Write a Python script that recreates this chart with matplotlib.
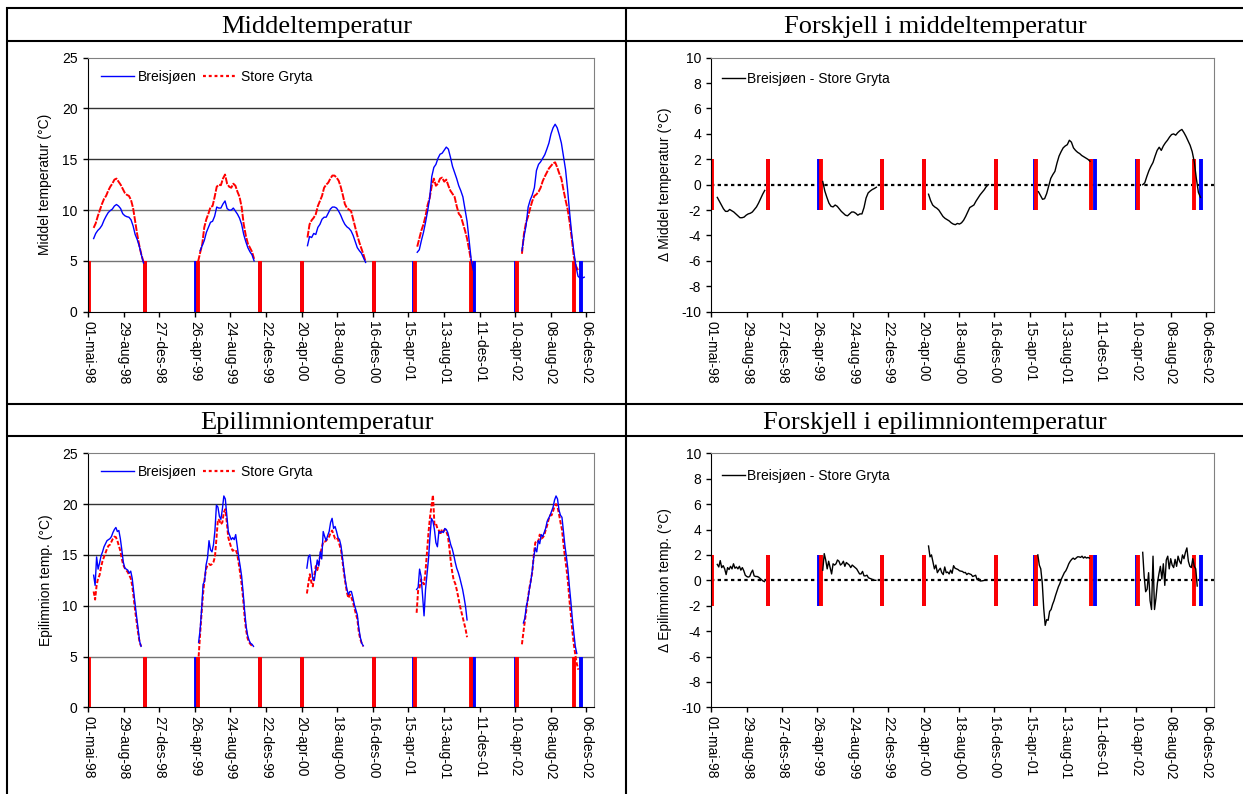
import matplotlib
matplotlib.use('Agg')
import matplotlib.pyplot as plt
from matplotlib.lines import Line2D
import numpy as np
import pandas as pd

plt.rcParams['font.family'] = ['Liberation Sans', 'DejaVu Sans']
plt.rcParams['axes.unicode_minus'] = False
nan = np.nan

# ice-off / ice-on dates for the two lakes
ice_breisjoen = ['1998-05-01', '1998-11-09', '1999-04-30', '1999-12-02', '2000-04-23',
                 '2000-12-21', '2001-05-04', '2001-11-24', '2002-04-13', '2002-11-17']
ice_store_gryta = ['1998-05-03', '1998-11-09', '1999-05-07', '1999-12-02', '2000-04-23',
                   '2000-12-21', '2001-05-08', '2001-11-11', '2002-04-18', '2002-10-24']

# mean water column temperature, weekly values per open-water season
mean_start = ['1998-05-20', '1999-05-07', '2000-05-10', '2001-05-15', '2002-05-03']
mean_breisjoen = [
    [7.2, 7.7, 8.0, 8.2, 8.5, 9.0, 9.4, 9.75, 9.95, 10.1, 10.4, 10.55, 10.4, 10.15, 9.65,
     9.45, 9.35, 9.3, 9.05, 8.45, 7.6, 7.1, 6.45, 5.6, 4.8],
    [nan, 6.0, 6.5, 7.0, 7.8, 8.3, 8.8, 8.9, 9.4, 10.3, 10.2, 10.2, 10.6, 10.9, 10.15,
     10.0, 10.0, 10.2, 9.9, 9.6, 9.2, 8.6, 7.6, 6.9, 6.3, 5.9, 5.6, 5.0],
    [6.5, 7.4, 7.3, 7.7, 7.6, 8.3, 8.6, 9.1, 9.3, 9.3, 9.7, 10.1, 10.3, 10.3, 10.2,
     9.9, 9.5, 9.0, 8.6, 8.35, 8.2, 7.95, 7.5, 6.9, 6.3, 6.0, 5.75, 5.3, 4.85],
    [5.85, 6.1, 7.0, 7.8, 8.8, 9.9, 11.2, 13.3, 14.2, 14.5, 15.1, 15.5, 15.6, 15.9, 16.2,
     16.0, 15.2, 14.3, 13.7, 13.1, 12.4, 11.9, 11.3, 10.1, 8.9, 7.0, 5.1, 4.1],
    [6.0, 7.4, 8.5, 10.3, 11.0, 11.5, 12.2, 13.9, 14.5, 14.75, 15.1, 15.45, 16.0, 16.6,
     17.5, 18.1, 18.45, 18.1, 17.4, 16.6, 15.3, 14.0, 12.0, 9.7, 7.6, 5.9, 4.5, 3.5,
     3.3, 3.3, 3.4],
]
mean_store_gryta = [
    [8.25, 8.7, 9.4, 10.0, 10.6, 11.1, 11.4, 11.9, 12.3, 12.6, 13.0, 13.1, 12.8, 12.5, 12.1,
     11.7, 11.5, 11.4, 11.0, 10.2, 8.9, 7.6, 6.5, 5.6, 4.9],
    [4.9, 5.8, 6.6, 8.3, 9.1, 9.65, 10.3, 10.4, 11.3, 12.3, 12.5, 12.45, 13.1, 13.5, 12.6,
     12.3, 12.2, 12.6, 12.4, 11.8, 11.3, 10.3, 8.6, 7.5, 6.7, 6.3, 5.9, 5.2],
    [7.3, 8.6, 9.0, 9.25, 9.6, 10.4, 10.9, 11.4, 12.2, 12.5, 12.7, 13.1, 13.4, 13.4, 13.2,
     12.9, 12.3, 11.5, 10.6, 10.2, 10.05, 9.9, 9.1, 8.3, 7.5, 6.8, 6.2, 5.6, 4.9],
    [6.4, 7.2, 8.0, 8.6, 9.4, 10.5, 11.2, 12.4, 13.1, 12.4, 12.6, 13.1, 13.2, 12.8, 13.0,
     12.4, 11.9, 11.6, 11.3, 10.4, 9.65, 9.4, 8.7, 8.0, 7.2, 6.1, 4.9, nan],
    [5.7, 7.7, 8.8, 9.4, 10.2, 10.9, 11.4, 11.55, 11.8, 12.2, 12.85, 13.3, 13.7, 14.1,
     14.35, 14.6, 14.7, 14.2, 13.6, 13.1, 12.0, 11.0, 10.1, 8.8, 7.2, 5.4, 4.5, 4.1,
     nan, nan, nan],
]

# Breisjøen minus Store Gryta, mean temperature (weekly)
diff_mean_start = ['1998-05-21', '1999-05-14', '2000-05-07', '2001-05-15', '2002-05-04']
diff_mean = [
    [-1.0, -1.3, -1.6, -1.9, -2.1, -2.1, -1.95, -2.05, -2.15, -2.3, -2.45, -2.6, -2.6,
     -2.55, -2.4, -2.3, -2.25, -2.15, -1.95, -1.75, -1.45, -1.1, -0.75, -0.45],
    [0.25, -0.5, -1.0, -1.45, -1.7, -1.75, -1.6, -1.7, -1.9, -2.1, -2.25, -2.4, -2.45,
     -2.3, -2.15, -2.15, -2.25, -2.4, -2.3, -2.3, -1.8, -1.05, -0.65, -0.5, -0.38, -0.3,
     -0.2],
    [-0.75, -1.25, -1.6, -1.75, -1.85, -2.0, -2.25, -2.5, -2.65, -2.75, -2.85, -3.0, -3.1,
     -3.15, -3.05, -3.1, -3.0, -2.8, -2.5, -2.15, -1.8, -1.7, -1.6, -1.3, -1.05, -0.8,
     -0.6, -0.4, -0.15, 0.0],
    [-0.55, -0.85, -1.15, -1.1, -0.7, -0.1, 0.5, 0.8, 1.05, 1.7, 2.25, 2.6, 2.9, 3.05,
     3.15, 3.5, 3.35, 2.9, 2.7, 2.55, 2.45, 2.3, 2.2, 2.1, 2.0, 1.85],
    [0.0, 0.15, 0.65, 1.1, 1.45, 1.75, 2.25, 2.7, 2.95, 2.7, 3.05, 3.3, 3.5, 3.75, 3.95,
     4.0, 3.9, 4.1, 4.25, 4.35, 4.1, 3.8, 3.45, 3.1, 2.6, 1.8, 0.5, -0.6, -1.0],
]

# epilimnion temperature, 5-day values per season
epi_start = ['1998-05-20', '1999-05-09', '2000-05-08', '2001-05-13', '2002-05-03']
epi_breisjoen = [
    [13.0, 12.0, 14.8, 13.6, 14.2, 14.9, 15.3, 15.8, 16.1, 16.4, 16.5, 16.6, 16.8, 17.2,
     17.5, 17.7, 17.3, 17.4, 16.6, 15.5, 14.3, 13.7, 13.6, 13.5, 13.2, 13.4, 12.7, 11.4,
     10.1, 8.9, 7.7, 6.5, 6.0],
    [6.4, 7.6, 9.6, 12.1, 12.4, 14.0, 14.7, 16.4, 15.5, 15.3, 16.0, 17.4, 19.9, 19.7,
     18.8, 18.5, 19.5, 20.8, 20.5, 18.9, 17.3, 16.9, 16.5, 16.7, 16.5, 17.0, 15.9, 14.8,
     13.9, 12.9, 11.3, 9.5, 8.0, 7.1, 6.6, 6.3, 6.2, 6.0],
    [13.7, 14.8, 15.0, 13.8, 12.6, 12.5, 13.5, 14.5, 13.9, 15.3, 14.6, 17.3, 16.8, 16.4,
     16.9, 17.3, 18.2, 18.6, 17.6, 17.8, 17.3, 16.7, 16.5, 15.9, 14.7, 13.5, 12.4, 11.6,
     11.1, 11.4, 11.4, 10.8, 10.1, 9.6, 9.1, 7.8, 6.9, 6.3, 6.05],
    [11.6, 11.8, 13.6, 12.9, 11.0, 9.0, 11.6, 13.1, 14.6, 16.8, 18.6, 18.3, 17.5, 16.2,
     15.8, 17.3, 17.2, 17.3, 17.2, 17.6, 17.5, 17.2, 16.6, 16.0, 15.6, 15.0, 14.3, 13.7,
     13.3, 12.8, 12.2, 11.6, 10.8, 9.9, 8.6],
    [nan, 8.3, 8.8, 10.0, 10.6, 11.6, 12.4, 13.5, 14.8, 15.7, 15.3, 16.4, 16.1, 17.0,
     16.8, 17.2, 17.6, 18.3, 18.6, 18.9, 19.3, 19.7, 20.4, 20.8, 20.5, 19.4, 18.9, 18.7,
     17.3, 15.9, 14.8, 13.6, 11.9, 10.4, 8.7, 7.3, 6.0, 5.3, nan],
]
epi_store_gryta = [
    [11.4, 10.6, 12.0, 12.7, 13.0, 13.8, 14.4, 14.8, 15.2, 15.6, 15.9, 16.0, 16.3, 16.6,
     16.8, 16.75, 16.4, 15.9, 15.4, 14.6, 14.0, 13.7, 13.5, 13.3, 13.0, 12.7, 12.0, 10.8,
     9.5, 8.4, 7.3, 6.4, 6.0],
    [5.0, 7.2, 9.3, 11.2, 12.6, 13.6, 14.0, 14.1, 14.0, 14.1, 14.3, 14.8, 16.6, 18.5,
     18.4, 18.0, 18.2, 19.2, 19.5, 18.2, 16.7, 16.2, 15.7, 15.4, 15.5, 15.5, 15.1, 14.2,
     13.2, 12.1, 10.7, 8.9, 7.6, 6.8, 6.4, 6.2, 6.05, 5.95],
    [11.2, 12.2, 13.1, 12.3, 11.9, 13.0, 13.9, 13.5, 14.1, 15.0, 15.7, 16.3, 16.3, 16.4,
     16.6, 16.8, 17.2, 17.4, 17.0, 16.6, 16.7, 16.5, 16.0, 15.5, 14.4, 13.2, 12.2, 11.3,
     10.75, 11.1, 10.8, 10.4, 9.8, 9.2, 8.7, 7.4, 6.7, 6.3, 6.0],
    [9.3, 11.5, 11.8, 12.6, 12.3, 12.1, 13.4, 15.3, 17.2, 18.7, 19.8, 20.9, 18.0, 18.1,
     17.6, 17.4, 17.0, 17.5, 17.3, 17.5, 17.3, 16.9, 15.8, 14.4, 13.3, 12.5, 12.2, 11.6,
     10.9, 10.1, 9.5, 8.9, 8.3, 7.7, 6.9],
    [6.2, 7.4, 8.5, 9.6, 10.7, 11.7, 12.5, 13.3, 15.0, 16.2, 16.4, 16.3, 17.0, 16.6, 16.7,
     16.9, 17.45, 17.9, 18.5, 18.9, 18.9, 19.3, 19.8, 20.0, 19.75, 19.0, 18.2, 17.5, 16.1,
     14.8, 13.7, 12.4, 10.6, 9.1, 7.5, 6.2, 5.15, 4.3, 3.7],
]

# Breisjøen minus Store Gryta, epilimnion (5-day)
diff_epi_start = ['1998-05-21', '1999-05-14', '2000-05-07', '2001-05-13', '2002-05-04']
diff_epi = [
    [1.25, 1.05, 1.55, 1.0, 1.15, 0.9, 0.45, 1.0, 0.85, 1.1, 0.9, 1.3, 0.95, 1.05, 0.9,
     1.1, 0.8, 1.0, 0.75, 0.4, 0.3, 0.25, 0.3, 0.6, 0.8, 0.35, 0.3, 0.3, 0.25, 0.15, 0.05,
     -0.05, -0.1],
    [0.8, 2.1, 1.6, 0.9, 1.5, 1.0, 0.5, 1.3, 1.2, 1.3, 1.6, 1.5, 1.2, 1.3, 1.5, 1.1, 1.4,
     1.3, 1.2, 1.0, 1.2, 1.1, 1.0, 0.9, 0.7, 0.5, 0.5, 0.7, 0.35, 0.35, 0.4, 0.2, 0.15,
     0.1, 0.05, 0.0, 0.0],
    [2.7, 1.85, 2.0, 1.45, 0.9, 1.2, 0.6, 0.8, 0.95, 0.6, 0.45, 1.05, 0.6, 0.65, 0.5, 0.8,
     0.55, 1.15, 0.95, 0.9, 0.85, 0.75, 0.72, 0.7, 0.6, 0.62, 0.45, 0.55, 0.5, 0.45, 0.3,
     0.35, 0.4, 0.05, 0.15, -0.05, -0.05, -0.03, 0.0, 0.0],
    [2.0, 1.2, 0.9, -0.2, -2.2, -3.55, -3.1, -3.15, -2.45, -2.3, -1.9, -1.6, -1.2, -0.85,
     -0.5, -0.25, 0.1, 0.35, 0.6, 0.75, 1.0, 1.3, 1.5, 1.65, 1.75, 1.65, 1.75, 1.85, 1.85,
     1.8, 1.9, 1.75, 1.85, 1.75, 1.8, 1.75],
    [2.2, 0.3, -0.9, -0.7, 0.6, -1.6, -2.3, 1.9, -2.3, -1.4, -0.2, 0.5, 1.1, 0.1, 1.3,
     -0.4, 1.6, 1.9, 0.9, 1.7, 1.2, 1.0, 1.65, 1.1, 1.9, 1.5, 1.3, 2.0, 1.7, 2.2, 2.55,
     1.5, 1.1, 1.0, 1.7, 1.1, 0.9, -0.45],
]

months = ['jan', 'feb', 'mar', 'apr', 'mai', 'jun', 'jul', 'aug', 'sep', 'okt', 'nov', 'des']
tick_dates = pd.date_range('1998-05-01', periods=15, freq='120D')
tick_labels = ['%02d-%s-%02d' % (d.day, months[d.month - 1], d.year % 100) for d in tick_dates]

BLUE = '#0000ff'
RED = '#ff0000'
W, H = 1243, 794


def fx(px):
    return px / W


def fy(py):
    return 1 - py / H


def plot_seasons(ax, starts, seasons, step, **kw):
    for start, vals in zip(starts, seasons):
        x = pd.date_range(start, periods=len(vals), freq='%dD' % step)
        ax.plot(x, vals, zorder=3, **kw)


def ice_bars(ax, y0, y1):
    ax.vlines(pd.to_datetime(ice_breisjoen), y0, y1, colors=BLUE, lw=2.8, zorder=2)
    ax.vlines(pd.to_datetime(ice_store_gryta), y0, y1, colors=RED, lw=2.8, zorder=2)


def setup(ax, ylim, yticks, ylabel, label_x, grid):
    ax.set_xlim(pd.Timestamp('1998-05-01'), pd.Timestamp('2003-01-01'))
    ax.set_ylim(*ylim)
    ax.set_yticks(yticks)
    ax.set_xticks(tick_dates)
    ax.set_xticklabels(tick_labels, rotation=-90, ha='center', va='top')
    ax.tick_params(direction='out', length=3.5, width=1, labelsize=10, colors='k')
    ax.tick_params(axis='y', pad=4)
    ax.tick_params(axis='x', pad=3)
    for s in ['left', 'bottom']:
        ax.spines[s].set_color('k')
    for s in ['top', 'right']:
        ax.spines[s].set_color('#808080')
    ax.set_ylabel(ylabel, fontsize=10)
    ax.yaxis.set_label_coords(label_x, 0.5)
    if grid:
        for v in yticks[1:-1]:
            ax.axhline(v, color='0.2' if v > 10 else '0.45', lw=1.0, zorder=1)


def temp_legend(ax):
    h_b = Line2D([], [], color=BLUE, lw=1.0)
    h_r = Line2D([], [], color=RED, lw=1.6, ls=(0, (1.3, 1.3)))
    ax.legend([h_b, h_r], ['Breisjøen', 'Store Gryta'], loc='center left',
              bbox_to_anchor=(0.025, 0.925), ncol=2, frameon=False, borderpad=0,
              borderaxespad=0, handlelength=2.4, handletextpad=0.3, columnspacing=0.45,
              fontsize=10)


def diff_legend(ax, y):
    h = Line2D([], [], color='k', lw=1.0)
    ax.legend([h], ['Breisjøen - Store Gryta'], loc='center left',
              bbox_to_anchor=(0.022, y), frameon=False, borderpad=0, borderaxespad=0,
              handlelength=1.6, handletextpad=0.2, fontsize=10)


fig = plt.figure(figsize=(W / 100, H / 100), dpi=100)

ax_h = 254 / H
ax_tl = fig.add_axes([fx(88), fy(311.7), fx(506), ax_h])
ax_tr = fig.add_axes([fx(711.4), fy(311.7), fx(502.6), ax_h])
ax_bl = fig.add_axes([fx(88), fy(707.3), fx(506), ax_h])
ax_br = fig.add_axes([fx(711.4), fy(707.3), fx(502.6), ax_h])

blue_style = dict(color=BLUE, lw=1.0)
black_style = dict(color='k', lw=1.0)

# mean temperature
setup(ax_tl, (0, 25), [0, 5, 10, 15, 20, 25], 'Middel temperatur (°C)', -0.072, True)
ice_bars(ax_tl, 0, 5)
plot_seasons(ax_tl, mean_start, mean_store_gryta, 7, color=RED, lw=1.4, ls=(0, (3.5, 0.7)))
plot_seasons(ax_tl, mean_start, mean_breisjoen, 7, **blue_style)
temp_legend(ax_tl)

# mean temperature difference
setup(ax_tr, (-10, 10), list(range(-10, 11, 2)), '\u0394 Middel temperatur (°C)', -0.079, False)
ax_tr.axhline(0, color='k', lw=1.6, ls=(0, (1.5, 1.5)), zorder=1)
ice_bars(ax_tr, -2, 2)
plot_seasons(ax_tr, diff_mean_start, diff_mean, 7, **black_style)
diff_legend(ax_tr, 0.915)

# epilimnion temperature
setup(ax_bl, (0, 25), [0, 5, 10, 15, 20, 25], 'Epilimnion temp. (°C)', -0.07, True)
ice_bars(ax_bl, 0, 5)
plot_seasons(ax_bl, epi_start, epi_store_gryta, 5, color=RED, lw=1.4, ls=(0, (2.2, 1.0)))
plot_seasons(ax_bl, epi_start, epi_breisjoen, 5, **blue_style)
temp_legend(ax_bl)

# epilimnion difference
setup(ax_br, (-10, 10), list(range(-10, 11, 2)), '\u0394 Epilimnion temp. (°C)', -0.079, False)
ax_br.axhline(0, color='k', lw=1.6, ls=(0, (1.5, 1.5)), zorder=1)
ice_bars(ax_br, -2, 2)
plot_seasons(ax_br, diff_epi_start, diff_epi, 5, **black_style)
diff_legend(ax_br, 0.912)

# table frame around the four panels
frame = dict(transform=fig.transFigure, color='k', lw=1.5, solid_capstyle='butt')
for y in [7.5, 40.5, 403.5, 436]:
    fig.add_artist(Line2D([fx(6), 1], [fy(y), fy(y)], **frame))
for x in [7, 626]:
    fig.add_artist(Line2D([fx(x), fx(x)], [fy(6.5), 0], **frame))

title_font = dict(family=['Liberation Serif', 'DejaVu Serif'], fontsize=19, ha='center', va='baseline')
fig.text(fx(316.5), fy(33), 'Middeltemperatur', **title_font)
fig.text(fx(935), fy(33), 'Forskjell i middeltemperatur', **title_font)
fig.text(fx(316.5), fy(429), 'Epilimniontemperatur', **title_font)
fig.text(fx(935), fy(429), 'Forskjell i epilimniontemperatur', **title_font)

fig.savefig('out.png', dpi=100)
